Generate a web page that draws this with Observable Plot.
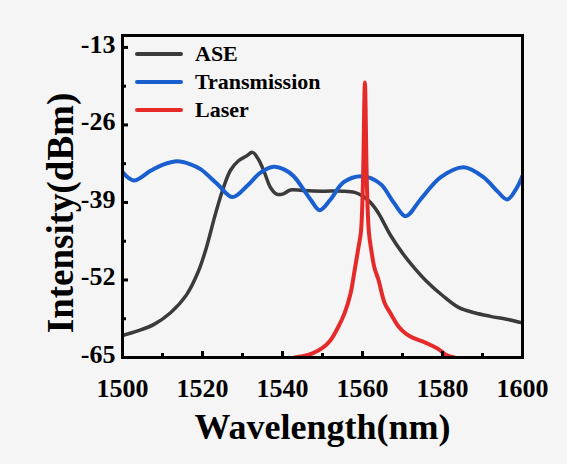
<!DOCTYPE html>
<html><head><meta charset="utf-8">
<script src="https://cdn.jsdelivr.net/npm/d3@7"></script>
<script src="https://cdn.jsdelivr.net/npm/@observablehq/plot@0.6"></script>
<style>
body{margin:0;background:#f5f5f5;}
#wrap{position:relative;width:567px;height:464px;background:#f5f5f5;overflow:hidden;}
#legend{position:absolute;left:135px;top:40px;font:bold 22px "Liberation Serif",serif;color:#000;}
#legend .row{height:28px;display:flex;align-items:center;}
#legend .sw{display:inline-block;width:48px;height:4.5px;margin-right:12px;border-radius:2px;}
#ytitle{position:absolute;left:60px;top:213px;transform:translate(-50%,-50%) rotate(-90deg);font:bold 37px "Liberation Serif",serif;white-space:nowrap;color:#000;line-height:1;}
</style></head><body><div id="wrap"><div id="legend"></div><div id="ytitle"></div></div>
<script>
const xTicks = [1500, 1520, 1540, 1560, 1580, 1600];
const xMinor = [1510, 1530, 1550, 1570, 1590];
const yTicks = [-65, -52, -39, -26, -13];
const yMinor = [-58.5, -45.5, -32.5, -19.5];
const xTitle = "Wavelength(nm)";
const yTitle = "Intensity(dBm)";

const seriesNames = ["ASE", "Transmission", "Laser"];
const seriesColors = ["#3b3b3b", "#1a5fd0", "#e52a2a"];

const aseX = [1500,1504,1508,1512,1516,1519,1521,1523,1525,1527,1529,1531,1532.5,1534,1535.5,1537,1538.5,1540,1542,1545,1550,1555,1558,1560,1562,1564,1567,1570,1573,1576,1580,1584,1588,1592,1596,1600];
const aseY = [-61.3,-60.5,-59.4,-57.5,-54.5,-50.5,-46.5,-41.5,-37,-33.6,-32.0,-31.2,-30.6,-31.8,-34,-36.5,-37.6,-37.6,-36.9,-37.0,-37.1,-37.1,-37.3,-37.9,-39,-40.8,-44.5,-47.5,-50,-52.2,-54.6,-56.6,-57.5,-58.1,-58.6,-59.2];

const trX = [1500,1502.8,1507,1510,1513.7,1517,1519.5,1523.7,1527.5,1531.2,1534.5,1537.8,1540.5,1542.8,1547,1549.3,1552,1555.3,1560,1564.5,1567.8,1570.8,1574.5,1579.5,1585.3,1590.3,1593.7,1596.2,1598.7,1600];
const trY = [-33.9,-35.3,-33.7,-32.7,-32.1,-32.6,-33.4,-35.9,-38.1,-36.2,-34.0,-33.0,-33.5,-34.6,-38.5,-40.3,-38.5,-35.6,-34.6,-35.9,-39.0,-41.3,-38.5,-34.8,-33.1,-34.8,-37.1,-38.5,-36.4,-34.5];

const laserX = [1543,1545,1547.5,1550,1552,1554,1555.5,1557,1558,1559,1559.6,1560.1,1560.6,1561.1,1561.6,1562.2,1563,1564,1565.5,1567,1569,1571,1573,1575,1577,1579,1581,1583];
const laserY = [-65,-64.8,-64.3,-63.4,-62.1,-59.8,-57.6,-54.3,-50.5,-46.5,-44,-36,-18.9,-36,-44,-47,-50,-52,-55.8,-57.6,-59.8,-61.1,-61.8,-62.3,-62.9,-63.6,-64.6,-65];

const series = [
  {name: seriesNames[0], color: seriesColors[0], xs: aseX, ys: aseY, width: 3.5},
  {name: seriesNames[1], color: seriesColors[1], xs: trX, ys: trY, width: 4},
  {name: seriesNames[2], color: seriesColors[2], xs: laserX, ys: laserY, width: 4}
];
const toRows = s => s.xs.map((x, i) => ({x, y: s.ys[i]}));

const W = 567, H = 464, mL = 122, mR = 45, mT = 35, mB = 107;
const frameW = W - mL - mR, frameH = H - mT - mB;

const plot = Plot.plot({
  width: W, height: H,
  marginLeft: mL, marginRight: mR, marginTop: mT, marginBottom: mB,
  style: {background: "#f5f5f5", fontFamily: "'Liberation Serif', serif", fontWeight: "bold", color: "#000"},
  x: {domain: [1500, 1600]},
  y: {domain: [-65, -11]},
  marks: [
    ...series.map(s => Plot.line(toRows(s), {x: "x", y: "y", stroke: s.color, strokeWidth: s.width, curve: "catmull-rom", clip: true})),
    Plot.tickX(xTicks, {x: d => d, stroke: "black", strokeWidth: 3, insetTop: frameH - 6}),
    Plot.tickX(xMinor, {x: d => d, stroke: "black", strokeWidth: 3, insetTop: frameH - 4}),
    Plot.tickY(yTicks, {y: d => d, stroke: "black", strokeWidth: 3, insetRight: frameW - 6}),
    Plot.tickY(yMinor, {y: d => d, stroke: "black", strokeWidth: 3, insetRight: frameW - 4}),
    Plot.axisX(xTicks, {tickSize: 0, tickPadding: 21, fontSize: 26, fontWeight: "bold", tickFormat: d => String(d), label: null}),
    Plot.axisY(yTicks, {tickSize: 0, tickPadding: 7, fontSize: 26, fontWeight: "bold", dy: -3, tickFormat: d => String(d), label: null}),
    Plot.frame({stroke: "black", strokeWidth: 3}),
    Plot.text([xTitle], {frameAnchor: "bottom", dy: 81, fontSize: 36, fontWeight: "bold", fill: "black"})
  ]
});
const wrap = document.getElementById("wrap");
wrap.insertBefore(plot, wrap.firstChild);
document.getElementById("ytitle").textContent = yTitle;

const legend = d3.select("#legend");
series.forEach(s => {
  const row = legend.append("div").attr("class", "row");
  row.append("span").attr("class", "sw").style("background", s.color);
  row.append("span").text(s.name);
});
</script>
</body></html>
